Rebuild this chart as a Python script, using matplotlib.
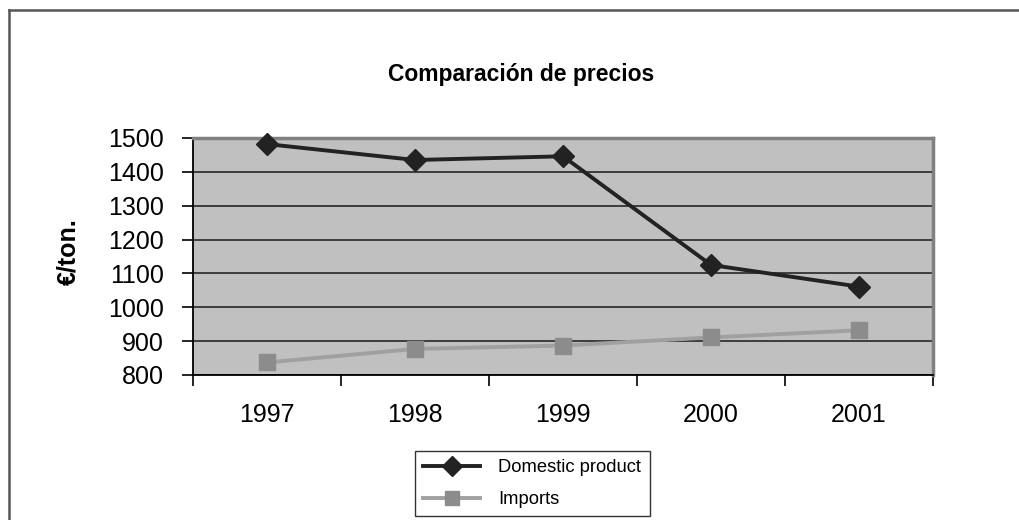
import matplotlib
matplotlib.use("Agg")
import matplotlib.pyplot as plt
from matplotlib.lines import Line2D

years = ["1997", "1998", "1999", "2000", "2001"]
domestic = [1482, 1435, 1446, 1125, 1061]
imports = [837, 877, 887, 911, 932]
yticks = [800, 900, 1000, 1100, 1200, 1300, 1400, 1500]

plt.rcParams['font.family'] = ['Liberation Sans', 'DejaVu Sans']

fig = plt.figure(figsize=(10.2, 5.2), dpi=100)
ax = fig.add_axes([193/1020, 1-375/520, (933-193)/1020, (375-138)/520])
ax.set_facecolor('#C0C0C0')

x = list(range(len(years)))
ax.plot(x, domestic, color='#222222', lw=2.8, marker='D', ms=11, mfc='#222222', mec='#222222',
        zorder=4, label='Domestic product', clip_on=False)
ax.plot(x, imports, color='#a0a0a0', lw=2.8, marker='s', ms=11, mfc='#8c8c8c', mec='#8c8c8c',
        zorder=3, label='Imports', clip_on=False)

ax.set_xlim(-0.5, len(years)-0.5)
ax.set_ylim(800, 1500)
ax.set_yticks(yticks)
ax.set_yticklabels([str(v) for v in yticks], fontsize=18)
ax.set_xticks([i - 0.5 for i in range(len(years)+1)])
ax.set_xticklabels([])
ax.set_xticks(x, minor=True)
ax.set_xticklabels(years, minor=True, fontsize=18)
ax.tick_params(axis='x', which='minor', length=0, pad=20)
ax.tick_params(axis='x', which='major', length=8, width=1.2, direction='out', color='black')
ax.tick_params(axis='y', length=8, width=1.2, direction='out', color='black', pad=13)

ax.yaxis.grid(True, color='#333333', lw=1.3)
ax.set_axisbelow(True)

for s in ['top', 'right']:
    ax.spines[s].set_color('#808080')
    ax.spines[s].set_linewidth(2.5)
for s in ['left', 'bottom']:
    ax.spines[s].set_color('black')
    ax.spines[s].set_linewidth(1.3)

fig.text(521/1020, 1-75/520, 'Comparación de precios', ha='center', va='center',
         fontsize=16.5, fontweight='bold')
fig.text(68/1020, 1-252/520, '€/ton.', ha='center', va='center', rotation=90,
         fontsize=18, fontweight='bold')

# outer frame (top and left edges visible)
fig.add_artist(Line2D([9/1020, 1.0], [1-10/520, 1-10/520], color='#555555', lw=1.8,
                      transform=fig.transFigure))
fig.add_artist(Line2D([9/1020, 9/1020], [1-10/520, 0.0], color='#555555', lw=1.8,
                      transform=fig.transFigure))

leg = fig.legend(loc='upper left', bbox_to_anchor=(415/1020, 1-451/520), frameon=True,
                 fancybox=False, edgecolor='black', fontsize=13.2, handlelength=3.1,
                 borderpad=0.45, labelspacing=0.8, handletextpad=1.0, borderaxespad=0,
                 markerscale=0.95)
leg.get_frame().set_linewidth(1.0)

fig.savefig('out.png', dpi=100)
